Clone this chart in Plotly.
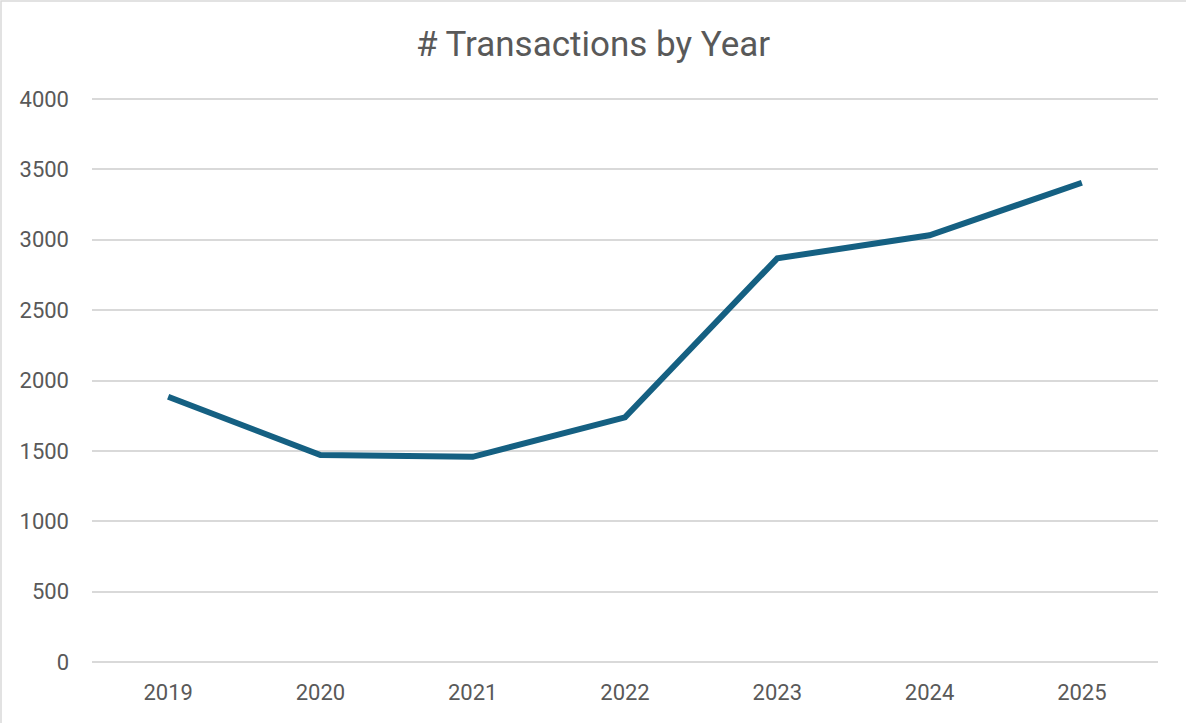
import plotly.graph_objects as go

years = ["2019", "2020", "2021", "2022", "2023", "2024", "2025"]
transactions = [1885, 1470, 1458, 1738, 2868, 3032, 3405]
y_ticks = [0, 500, 1000, 1500, 2000, 2500, 3000, 3500, 4000]

W, H = 1186, 723
L, R, T, B = 92, 28, 96, 61
pw, ph = W - L - R, H - T - B
y_top = 4000 * ph / (ph - 3)  # leave a little room so the top gridline is drawn

fig = go.Figure()
fig.add_trace(go.Scatter(
    x=years, y=transactions, mode="lines",
    line=dict(color="#156082", width=6),
    hoverinfo="x+y",
))

def px_to_paper_x(px):
    return (px - L) / pw

def px_to_paper_y(py):
    return (H - B - py) / ph

fig.update_layout(
    width=W, height=H,
    margin=dict(l=L, r=R, t=T, b=B),
    paper_bgcolor="white", plot_bgcolor="white",
    showlegend=False,
    font=dict(family="Roboto, Arial, sans-serif", color="#595959"),
    title=dict(text="# Transactions by Year", x=0.5, xanchor="center",
               y=1 - 44 / H, yanchor="middle",
               font=dict(size=35, color="#595959")),
    xaxis=dict(type="category", range=[-0.5, 6.5], showgrid=False,
               showline=False, zeroline=False, ticks="",
               tickfont=dict(size=22, color="#595959"),
               ticklabelstandoff=15),
    yaxis=dict(range=[0, y_top], tickvals=y_ticks, showgrid=True,
               gridcolor="#d9d9d9", gridwidth=1.5, zeroline=True,
               zerolinecolor="#d9d9d9", zerolinewidth=1.5,
               showline=False, ticks="",
               tickfont=dict(size=22, color="#595959"),
               ticklabelstandoff=22),
    shapes=[dict(type="rect", xref="paper", yref="paper",
                 x0=px_to_paper_x(1), x1=px_to_paper_x(1200),
                 y0=px_to_paper_y(730), y1=px_to_paper_y(1),
                 line=dict(color="#d9d9d9", width=1.5), layer="below")],
)

fig.write_html("out.html", config={"displayModeBar": False},
               post_script="document.body.style.margin='0';")
